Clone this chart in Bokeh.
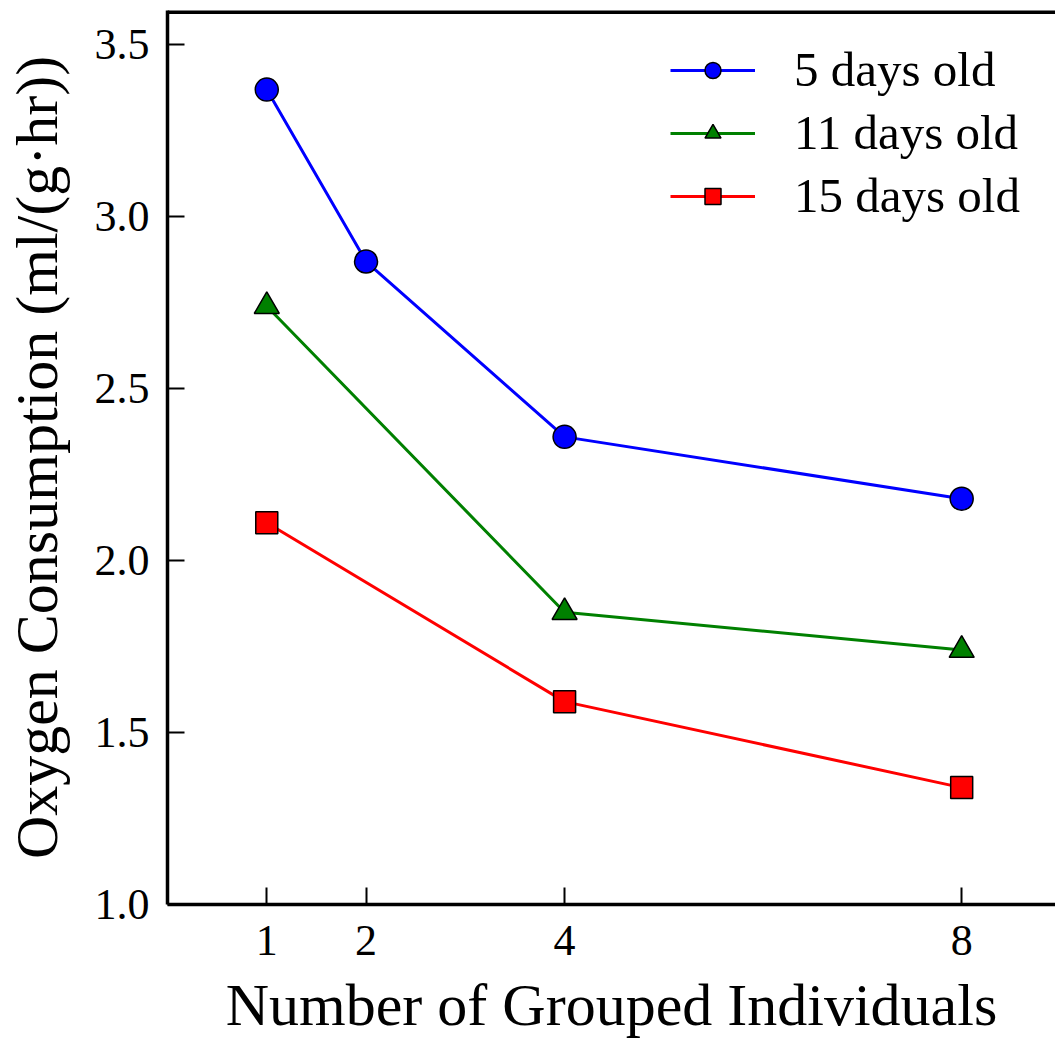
from bokeh.plotting import figure
from bokeh.models import FixedTicker, NumeralTickFormatter, Legend, LegendItem, Span, Range1d
from bokeh.embed import file_html
from bokeh.resources import INLINE

# Oxygen consumption by group size, for three ages
group_sizes_5d = [1, 2, 4, 8]
oxygen_5d = [3.37, 2.87, 2.36, 2.18]

group_sizes_11d = [1, 4, 8]
oxygen_11d = [2.74, 1.85, 1.74]

group_sizes_15d = [1, 4, 8]
oxygen_15d = [2.11, 1.59, 1.34]

x_ticks = [1, 2, 4, 8]
y_ticks = [1.0, 1.5, 2.0, 2.5, 3.0, 3.5]

FONT = "Liberation Serif"

p = figure(
    width=1055, height=1040,
    output_backend="svg", toolbar_location=None,
    x_range=Range1d(0, 8.945), y_range=Range1d(1.0, 3.6),
    min_border_left=166, min_border_right=0,
    min_border_top=10, min_border_bottom=134,
)
p.outline_line_color = None
p.grid.visible = False
p.background_fill_color = "white"

for ax in (p.xaxis[0], p.yaxis[0]):
    ax.axis_line_width = 3.5
    ax.axis_line_color = "black"
    ax.major_tick_in = 17
    ax.major_tick_out = 0
    ax.major_tick_line_width = 2
    ax.minor_tick_line_color = None
    ax.major_label_text_font = FONT
    ax.major_label_text_font_size = "44px"
    ax.major_label_text_color = "black"
    ax.axis_label_text_font = FONT
    ax.axis_label_text_font_style = "normal"
    ax.axis_label_text_color = "black"

p.xaxis.ticker = FixedTicker(ticks=x_ticks)
p.xaxis.major_label_standoff = 21
p.xaxis.axis_label = "Number of Grouped Individuals"
p.xaxis.axis_label_text_font_size = "60px"
p.xaxis.axis_label_standoff = 14

p.yaxis.ticker = FixedTicker(ticks=y_ticks)
p.yaxis.formatter = NumeralTickFormatter(format="0.0")
p.yaxis.major_label_standoff = 18
p.yaxis.axis_label = "Oxygen Consumption (ml/(g·hr))"
p.yaxis.axis_label_text_font_size = "60px"
p.yaxis.axis_label_standoff = 22

# top spine
p.add_layout(Span(location=3.6, dimension="width", line_color="black", line_width=7))

series = [
    (group_sizes_5d, oxygen_5d, "#0000ff", "circle", 23, "5 days old"),
    (group_sizes_11d, oxygen_11d, "#008000", "triangle", 25, "11 days old"),
    (group_sizes_15d, oxygen_15d, "#ff0000", "square", 22, "15 days old"),
]

items = []
for xs, ys, color, marker, size, label in series:
    ln = p.line(xs, ys, line_color=color, line_width=3)
    sc = p.scatter(xs, ys, marker=marker, size=size, fill_color=color,
                   line_color="black", line_width=1.5)
    items.append(LegendItem(label=label, renderers=[ln, sc]))

legend = Legend(
    items=items, location=(503, 680),
    glyph_width=85, glyph_height=40, label_height=40,
    spacing=6, label_standoff=39, padding=0, margin=0,
    border_line_color=None, background_fill_alpha=0,
    label_text_font=FONT, label_text_font_size="49px",
    label_text_color="black",
)
p.add_layout(legend)

open("out.html", "w").write(file_html(p, INLINE))
